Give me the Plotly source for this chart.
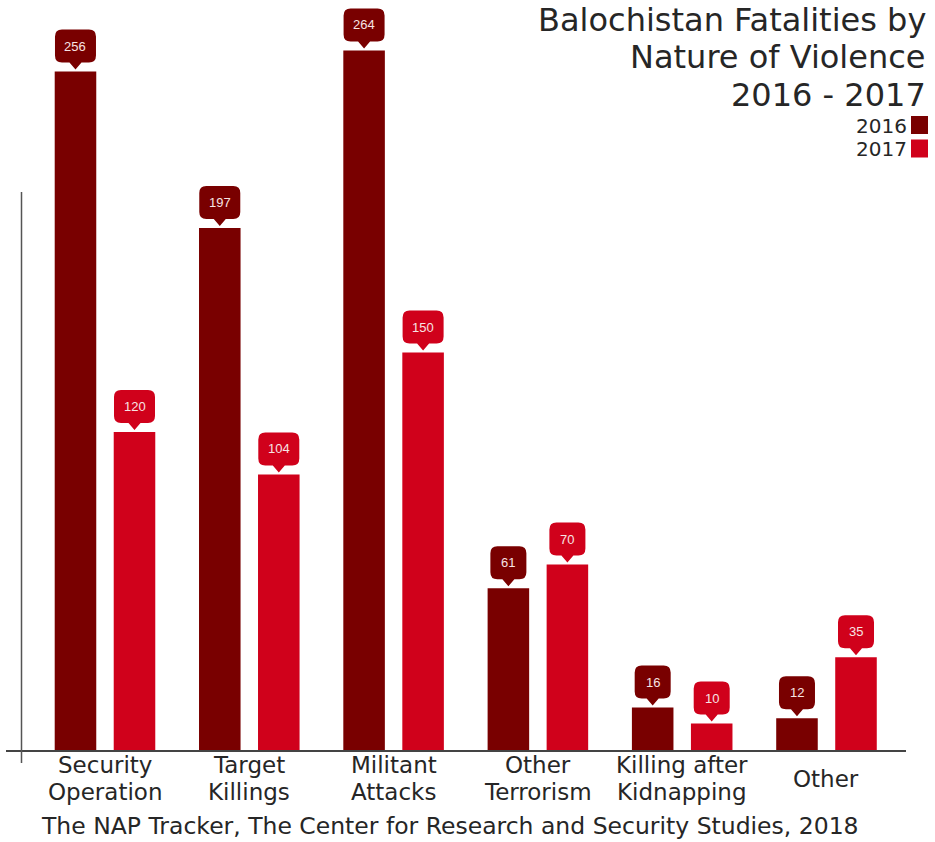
import plotly.graph_objects as go

# Data
categories = ["Security Operation", "Target Killings", "Militant Attacks",
              "Other Terrorism", "Killing after Kidnapping", "Other"]
label_lines = [["Security", "Operation"], ["Target", "Killings"], ["Militant", "Attacks"],
               ["Other", "Terrorism"], ["Killing after", "Kidnapping"], ["Other"]]
fatalities_2016 = [256, 197, 264, 61, 16, 12]
fatalities_2017 = [120, 104, 150, 70, 10, 35]
series = [("2016", fatalities_2016, "#790000"), ("2017", fatalities_2017, "#d0011b")]

W, H = 935, 842
ML, MR, MT, MB = 6, 29, 5, 92
PW, PH = W - ML - MR, H - MT - MB
BARGAP, GROUPGAP = 0.182, 0.296
PX_PER_UNIT = 2.65
YMAX = PH / PX_PER_UNIT
XMIN, XMAX = -0.686, 5.551
FONT = "DejaVu Sans"
TEXT = "#262626"


def px_x(p):
    return (p - ML) / PW


def px_y(p):
    return (H - MB - p) / PH


xs = list(range(len(categories)))
fig = go.Figure()
for name, vals, col in series:
    fig.add_trace(go.Bar(x=xs, y=vals, name=name, marker=dict(color=col, line=dict(width=0)),
                         showlegend=False, hoverinfo="x+y"))

shapes = []
annotations = []

# Callout badges above each bar
half_slot = (1 - BARGAP) / 4
for k, (name, vals, col) in enumerate(series):
    off = -half_slot if k == 0 else half_slot
    for i, v in enumerate(vals):
        w2 = 20.5 if v >= 100 else 18
        r, b, top, pw = 7, 9, 42, 6
        path = (f"M 0,2 L {pw},{b} L {w2 - r},{b} Q {w2},{b} {w2},{b + r} "
                f"L {w2},{top - r} Q {w2},{top} {w2 - r},{top} "
                f"L {-w2 + r},{top} Q {-w2},{top} {-w2},{top - r} "
                f"L {-w2},{b + r} Q {-w2},{b} {-w2 + r},{b} L {-pw},{b} Z")
        shapes.append(dict(type="path", xref="x", yref="y", xsizemode="pixel", ysizemode="pixel",
                           xanchor=i + off, yanchor=v, path=path,
                           fillcolor=col, line=dict(width=0), layer="above"))
        annotations.append(dict(x=i + off, y=v, xref="x", yref="y", text=str(v), showarrow=False,
                                yshift=(b + top) / 2, xanchor="center", yanchor="middle",
                                font=dict(family="Liberation Sans", size=13, color="#f7e4e4")))

# Vertical axis rule
shapes.append(dict(type="line", xref="paper", yref="paper", x0=px_x(21.5), x1=px_x(21.5),
                   y0=px_y(192), y1=px_y(763), line=dict(color="#555555", width=1.5)))

# Category labels under the baseline
for i, lines in enumerate(label_lines):
    centers = [765, 792] if len(lines) == 2 else [779]
    for txt, cy in zip(lines, centers):
        annotations.append(dict(x=i, y=px_y(cy), xref="x", yref="paper", text=txt, showarrow=False,
                                xanchor="center", yanchor="middle",
                                font=dict(family=FONT, size=23, color=TEXT)))

# Title
for txt, cy in [("Balochistan Fatalities by", 20), ("Nature of Violence", 57.5), ("2016 - 2017", 95)]:
    annotations.append(dict(x=px_x(928), y=px_y(cy), xref="paper", yref="paper", text=txt,
                            showarrow=False, xanchor="right", yanchor="middle",
                            font=dict(family=FONT, size=32, color=TEXT)))

# Legend
for (name, vals, col), cy in zip(series, [126, 149.5]):
    annotations.append(dict(x=px_x(909), y=px_y(cy), xref="paper", yref="paper", text=name,
                            showarrow=False, xanchor="right", yanchor="middle",
                            font=dict(family=FONT, size=20, color=TEXT)))
    shapes.append(dict(type="rect", xref="paper", yref="paper", x0=px_x(911), x1=px_x(928),
                       y0=px_y(cy - 10), y1=px_y(cy + 8), fillcolor=col, line=dict(width=0)))

# Source line
annotations.append(dict(x=px_x(450), y=px_y(826), xref="paper", yref="paper",
                        text="The NAP Tracker, The Center for Research and Security Studies, 2018",
                        showarrow=False, xanchor="center", yanchor="middle",
                        font=dict(family=FONT, size=23.5, color=TEXT)))

fig.update_layout(
    width=W, height=H,
    margin=dict(l=ML, r=MR, t=MT, b=MB, pad=0),
    paper_bgcolor="white", plot_bgcolor="white",
    barmode="group", bargap=BARGAP, bargroupgap=GROUPGAP,
    xaxis=dict(range=[XMIN, XMAX], showgrid=False, zeroline=False, showticklabels=False,
               ticks="", showline=True, linecolor="#444444", linewidth=1.5, fixedrange=True),
    yaxis=dict(range=[0, YMAX], showgrid=False, zeroline=False, showticklabels=False,
               ticks="", showline=False, fixedrange=True),
    shapes=shapes, annotations=annotations,
    showlegend=False,
)

fig.write_html("out.html")
